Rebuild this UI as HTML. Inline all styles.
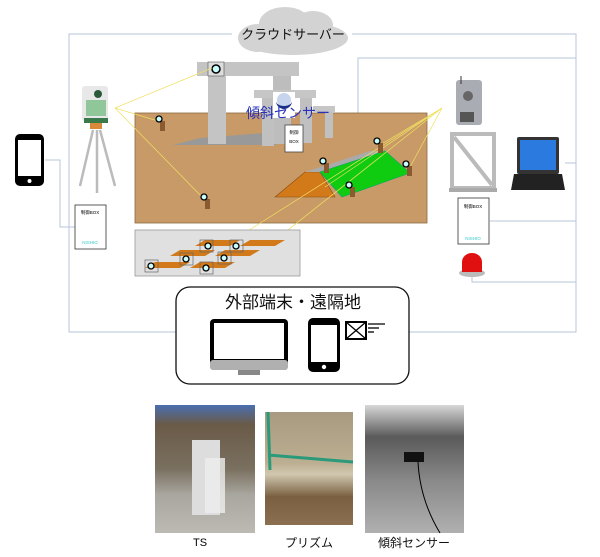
<!DOCTYPE html>
<html><head><meta charset="utf-8"><style>
html,body{margin:0;padding:0;background:#fff;}
svg{display:block;}
text{font-family:"Liberation Sans","Noto Sans CJK JP",sans-serif;}
</style></head><body>
<svg width="600" height="557" viewBox="0 0 600 557" xmlns="http://www.w3.org/2000/svg">
<rect x="0" y="0" width="600" height="557" fill="#fff"/>
<g stroke="#b8c4d8" stroke-width="1" fill="none">
<polyline points="232,34 69,34 69,332 176,332"/>
<polyline points="352,34 576,34 576,332 409,332"/>
<polyline points="358,128 358,58 576,58"/>
<polyline points="45,160 60,160 60,227 75,227"/>
<polyline points="490,221 576,221"/>
<polyline points="472,275 472,282 576,282"/>
<polyline points="565,163 576,163"/>
</g>
<g fill="#d3d3d3">
<ellipse cx="293" cy="38" rx="55" ry="17"/>
<ellipse cx="285" cy="24" rx="26" ry="17"/>
<ellipse cx="313" cy="25" rx="20" ry="14"/>
<ellipse cx="258" cy="38" rx="20" ry="14"/>
</g>
<text x="293" y="39" font-size="13" text-anchor="middle" fill="#111">クラウドサーバー</text>
<rect x="135" y="113" width="292" height="110" fill="#c89a68" stroke="#8a6a40" stroke-width="0.8"/>
<polygon points="173,145 275,145 305,130 200,138" fill="#999"/>
<rect x="197" y="62" width="102" height="14" fill="#c4c4c4"/>
<rect x="208" y="76" width="18" height="68" fill="#c4c4c4"/>
<rect x="273" y="76" width="18" height="68" fill="#bdbdbd"/>
<rect x="254" y="90" width="62" height="8" fill="#c6c6c6"/>
<rect x="262" y="98" width="12" height="48" fill="#c0c0c0"/>
<rect x="300" y="98" width="12" height="45" fill="#c0c0c0"/>
<rect x="313" y="106" width="22" height="6" fill="#c6c6c6"/>
<rect x="325" y="112" width="8" height="26" fill="#c0c0c0"/>
<rect x="208" y="62" width="16" height="14" fill="#ddd" stroke="#555" stroke-width="0.6"/>
<circle cx="216" cy="69" r="4" fill="#cff" stroke="#000" stroke-width="1.5"/>
<rect x="273" y="92" width="22" height="26" fill="#fff"/>
<circle cx="284" cy="100" r="7" fill="#c8d4ee"/>
<path d="M276,101 a8,8 0 0 0 16,0 a8,5 0 0 1 -16,0z" fill="#1a2f8a"/>
<text x="288" y="118" font-size="14" text-anchor="middle" fill="#2a32b8">傾斜センサー</text>
<rect x="285" y="125" width="18" height="27" fill="#fff" stroke="#444" stroke-width="0.8"/>
<text x="294" y="134" font-size="4.5" text-anchor="middle">制御</text>
<text x="294" y="143" font-size="4.5" text-anchor="middle">BOX</text>
<polygon points="275,197 305,172 320,172 335,197" fill="#d27a1a" stroke="#8a4a10" stroke-width="0.6"/>
<polygon points="305,172 370,151 385,151 320,172" fill="#aaa"/>
<polygon points="320,172 385,151 410,173 342,197" fill="#10cc10" stroke="#0a6" stroke-width="0.6"/>
<g stroke="#f0e060" stroke-width="0.7" fill="none">
<polyline points="115,108 212,68"/>
<polyline points="115,108 158,121"/>
<polyline points="115,108 205,200"/>
<polyline points="442,108 380,145"/>
<polyline points="442,108 410,167"/>
<polyline points="442,108 325,187"/>
<polyline points="442,108 205,258"/>
<polyline points="442,108 250,260"/>
</g>
<g>
<rect x="160" y="121" width="5" height="10" fill="#8a5a30"/><circle cx="159" cy="119" r="3" fill="#cff" stroke="#000" stroke-width="1.3"/>
<rect x="205" y="199" width="5" height="10" fill="#8a5a30"/><circle cx="204" cy="197" r="3" fill="#cff" stroke="#000" stroke-width="1.3"/>
<rect x="378" y="143" width="5" height="10" fill="#8a5a30"/><circle cx="377" cy="141" r="3" fill="#cff" stroke="#000" stroke-width="1.3"/>
<rect x="324" y="163" width="5" height="10" fill="#8a5a30"/><circle cx="323" cy="161" r="3" fill="#cff" stroke="#000" stroke-width="1.3"/>
<rect x="407" y="166" width="5" height="10" fill="#8a5a30"/><circle cx="406" cy="164" r="3" fill="#cff" stroke="#000" stroke-width="1.3"/>
<rect x="350" y="187" width="5" height="10" fill="#8a5a30"/><circle cx="349" cy="185" r="3" fill="#cff" stroke="#000" stroke-width="1.3"/>
</g>
<rect x="135" y="230" width="165" height="46" fill="#e0e0e0" stroke="#999" stroke-width="0.8"/>
<g fill="#d27a1a">
<polygon points="205,240 240,240 230,246 195,246"/><polygon points="250,240 285,240 275,246 240,246"/>
<polygon points="180,250 215,250 205,256 170,256"/><polygon points="225,250 260,250 250,256 215,256"/>
<polygon points="155,262 190,262 180,268 145,268"/><polygon points="200,262 235,262 225,268 190,268"/>
</g>
<g stroke="#666" stroke-width="0.7" fill="none">
<rect x="180" y="253" width="13" height="12"/><rect x="200" y="240" width="13" height="12"/><rect x="230" y="240" width="13" height="12"/>
<rect x="145" y="260" width="13" height="12"/><rect x="200" y="262" width="13" height="12"/><rect x="218" y="252" width="13" height="12"/>
</g>
<g fill="#cff" stroke="#000" stroke-width="1.3">
<circle cx="186" cy="259" r="3"/><circle cx="208" cy="246" r="3"/><circle cx="236" cy="246" r="3"/>
<circle cx="151" cy="266" r="3"/><circle cx="206" cy="268" r="3"/><circle cx="224" cy="258" r="3"/>
</g>
<rect x="15" y="134" width="29" height="52" rx="5" fill="#000"/>
<rect x="18" y="140" width="23" height="36" fill="#fff"/>
<circle cx="29.5" cy="181" r="2" fill="#fff"/>
<rect x="82" y="86" width="26" height="35" rx="3" fill="#e8e8e8"/>
<rect x="86" y="100" width="20" height="16" fill="#8fc79a"/>
<circle cx="98" cy="94" r="4" fill="#2a5a3a"/>
<rect x="84" y="118" width="24" height="5" fill="#3a7a4a"/>
<rect x="90" y="123" width="12" height="6" fill="#d88a3a"/>
<g stroke="#bbb" stroke-width="2.5"><line x1="93" y1="130" x2="80" y2="186"/><line x1="97" y1="130" x2="97" y2="193"/><line x1="100" y1="130" x2="115" y2="186"/></g>
<rect x="75" y="205" width="31" height="44" fill="#fff" stroke="#333" stroke-width="0.8"/>
<text x="90" y="214" font-size="4.5" text-anchor="middle">制御BOX</text>
<text x="90" y="244" font-size="4.5" text-anchor="middle" fill="#3cc">NISHIO</text>
<rect x="456" y="80" width="26" height="45" rx="3" fill="#a9adb3"/>
<rect x="460" y="112" width="14" height="10" fill="#555"/>
<circle cx="468" cy="96" r="5" fill="#666"/>
<line x1="461" y1="76" x2="461" y2="84" stroke="#333"/>
<rect x="452" y="134" width="42" height="54" fill="none" stroke="#bbb" stroke-width="4"/>
<line x1="454" y1="137" x2="492" y2="185" stroke="#bbb" stroke-width="4"/>
<rect x="449" y="188" width="48" height="4" fill="#aaa"/>
<rect x="458" y="198" width="31" height="46" fill="#fff" stroke="#333" stroke-width="0.8"/>
<text x="473" y="208" font-size="4.5" text-anchor="middle">制御BOX</text>
<text x="473" y="240" font-size="4.5" text-anchor="middle" fill="#3cc">NISHIO</text>
<ellipse cx="472" cy="273" rx="13" ry="4" fill="#bbb"/>
<path d="M462,272 L462,262 a10,9 0 0 1 20,0 L482,272z" fill="#e01010"/>
<rect x="517" y="137" width="42" height="37" rx="2" fill="#333"/>
<rect x="520" y="140" width="36" height="30" fill="#2a7ae0"/>
<polygon points="514,174 562,174 565,190 511,190" fill="#222"/>
<rect x="176" y="287" width="233" height="97" rx="14" fill="#fff" stroke="#111" stroke-width="1.3"/>
<text x="293" y="308" font-size="17" text-anchor="middle" fill="#111">外部端末・遠隔地</text>
<rect x="210" y="319" width="78" height="51" rx="4" fill="#000"/>
<rect x="214" y="323" width="70" height="36" fill="#fff"/>
<rect x="210" y="360" width="78" height="10" rx="3" fill="#b0b0b0"/>
<rect x="238" y="370" width="22" height="5" fill="#888"/>
<rect x="308" y="318" width="32" height="54" rx="5" fill="#000"/>
<rect x="311" y="325" width="26" height="37" fill="#fff"/>
<circle cx="324" cy="367" r="2.2" fill="#fff"/>
<rect x="346" y="322" width="20" height="17" fill="#fff" stroke="#000" stroke-width="2"/>
<line x1="346" y1="339" x2="366" y2="322" stroke="#000" stroke-width="1.3"/>
<line x1="346" y1="322" x2="366" y2="339" stroke="#000" stroke-width="1.3"/>
<g stroke="#000" stroke-width="1.3"><line x1="368" y1="324" x2="385" y2="324"/><line x1="368" y1="328" x2="379" y2="328"/><line x1="368" y1="332" x2="374" y2="332"/></g>
<defs>
<linearGradient id="sky" x1="0" y1="0" x2="0" y2="1"><stop offset="0" stop-color="#4a6fb0"/><stop offset="0.15" stop-color="#6a5a48"/><stop offset="0.5" stop-color="#7a7060"/><stop offset="0.7" stop-color="#a8a69e"/><stop offset="1" stop-color="#bcbab2"/></linearGradient>
<linearGradient id="pr" x1="0" y1="0" x2="0" y2="1"><stop offset="0" stop-color="#a89a80"/><stop offset="0.45" stop-color="#bcae90"/><stop offset="0.55" stop-color="#d0c8b0"/><stop offset="0.75" stop-color="#7a6040"/><stop offset="1" stop-color="#8a7050"/></linearGradient>
<linearGradient id="wall" x1="0" y1="0" x2="0" y2="1"><stop offset="0" stop-color="#d8d8d8"/><stop offset="0.25" stop-color="#5a5a5a"/><stop offset="0.6" stop-color="#8a8a8a"/><stop offset="1" stop-color="#b0b0b0"/></linearGradient>
</defs>
<rect x="155" y="405" width="100" height="128" fill="url(#sky)"/>
<rect x="192" y="440" width="28" height="75" fill="#ddd"/>
<rect x="205" y="458" width="20" height="55" fill="#eee" opacity="0.8"/>
<rect x="265" y="412" width="88" height="113" fill="url(#pr)"/>
<line x1="268" y1="412" x2="270" y2="470" stroke="#2a9a7a" stroke-width="3"/>
<line x1="268" y1="455" x2="353" y2="462" stroke="#2a9a7a" stroke-width="3"/>
<rect x="365" y="405" width="99" height="128" fill="url(#wall)"/>
<rect x="404" y="452" width="20" height="10" fill="#111"/>
<path d="M418,462 Q420,500 440,533" fill="none" stroke="#000" stroke-width="1"/>
<text x="200" y="546" font-size="11" text-anchor="middle" fill="#000">TS</text>
<text x="309" y="547" font-size="12" text-anchor="middle" fill="#111">プリズム</text>
<text x="414" y="547" font-size="12" text-anchor="middle" fill="#111">傾斜センサー</text>
</svg>
</body></html>
